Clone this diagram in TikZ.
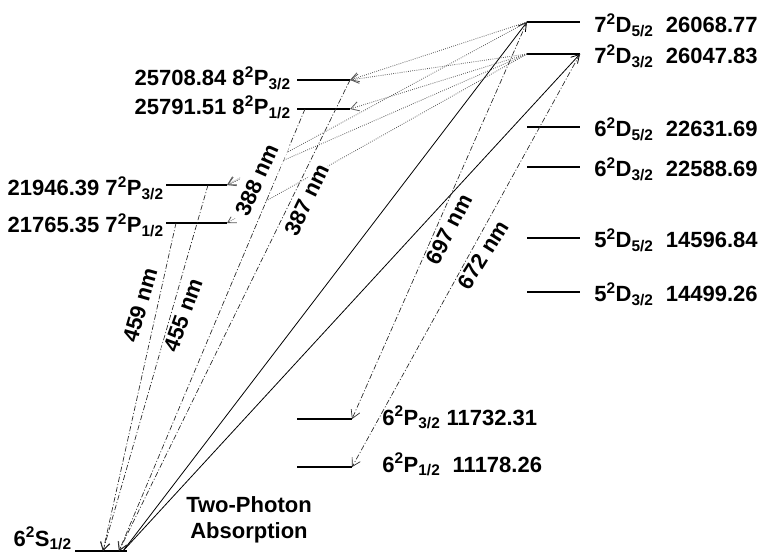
\documentclass[tikz,border=0pt]{standalone}
\usepackage{fontspec}
\setmainfont{Liberation Sans}
\usepackage{tikz}
\usetikzlibrary{arrows.meta}
\tikzset{
  nivel/.style={line width=2.2pt},
  absorcion/.style={-{Straight Barb[length=6pt,width=7pt]}, line width=0.6pt},
  emision/.style={-{Straight Barb[length=6pt,width=7pt]}, line width=0.5pt,
    dash pattern=on 4pt off 1.5pt on 0.8pt off 1.5pt, color=black!85},
  cascada/.style={-{Straight Barb[length=6pt,width=7pt]}, line width=0.6pt,
    densely dotted, color=black!65},
  etiq/.style={font=\fontsize{16.5}{19.5}\selectfont\bfseries, inner sep=0pt},
  onda/.style={etiq, fill=white, inner sep=1pt}
}
\newcommand{\term}[3]{#1\textsuperscript{2}#2\textsubscript{#3}}

\begin{document}
\begin{tikzpicture}[x=0.75pt, y=-0.75pt]
  \useasboundingbox (0,0) rectangle (759,555);
  % niveles D (derecha)
  \coordinate (d75a) at (527,22);  \coordinate (d75b) at (580,22);
  \coordinate (d73a) at (527,54);  \coordinate (d73b) at (580,54);
  \coordinate (d65a) at (527,127); \coordinate (d65b) at (580,127);
  \coordinate (d63a) at (527,167); \coordinate (d63b) at (580,167);
  \coordinate (d55a) at (527,238); \coordinate (d55b) at (580,238);
  \coordinate (d53a) at (527,292); \coordinate (d53b) at (580,292);
  % niveles P y S
  \coordinate (p83a) at (297,80);  \coordinate (p83b) at (350,80);
  \coordinate (p81a) at (297,109); \coordinate (p81b) at (350,109);
  \coordinate (p73a) at (166,185); \coordinate (p73b) at (227,185);
  \coordinate (p71a) at (166,223); \coordinate (p71b) at (227,223);
  \coordinate (p63a) at (297,419); \coordinate (p63b) at (352,419);
  \coordinate (p61a) at (297,467); \coordinate (p61b) at (352,467);
  \coordinate (s6a) at (75,551);   \coordinate (s6b) at (127,551);
  \foreach \n in {d75,d73,d65,d63,d55,d53,p83,p81,p73,p71,p63,p61,s6}
    \draw[nivel] (\n a) -- (\n b);

  \node[etiq, anchor=base west] (t75) at (594,33)  {\term{7}{D}{5/2}~~26068.77};
  \node[etiq, anchor=base west] (t73) at (594,64)  {\term{7}{D}{3/2}~~26047.83};
  \node[etiq, anchor=base west] (t65) at (594,137) {\term{6}{D}{5/2}~~22631.69};
  \node[etiq, anchor=base west] (t63) at (594,177) {\term{6}{D}{3/2}~~22588.69};
  \node[etiq, anchor=base west] (t55) at (594,248) {\term{5}{D}{5/2}~~14596.84};
  \node[etiq, anchor=base west] (t53) at (594,302) {\term{5}{D}{3/2}~~14499.26};
  \node[etiq, anchor=base east] (t83) at (291,86)  {25708.84 \term{8}{P}{3/2}};
  \node[etiq, anchor=base east] (t81) at (291,115) {25791.51 \term{8}{P}{1/2}};
  \node[etiq, anchor=base east] (t73p) at (164,196) {21946.39 \term{7}{P}{3/2}};
  \node[etiq, anchor=base east] (t71p) at (164,233) {21765.35 \term{7}{P}{1/2}};
  \node[etiq, anchor=base west] (t63p) at (382,425) {\term{6}{P}{3/2} 11732.31};
  \node[etiq, anchor=base west] (t61p) at (382,472) {\term{6}{P}{1/2}~~11178.26};
  \node[etiq, anchor=base east] (ts) at (72,546) {\term{6}{S}{1/2}};
  \node[etiq, align=center] (tpa) at (249,520) {Two-Photon\\Absorption};

  % puntos de salida y llegada
  \coordinate (sabs) at (123,551);
  \coordinate (s8p) at (119,551);
  \coordinate (s7p) at (103,551);
  \coordinate (o81) at (305,109);
  \coordinate (o73) at (208,185);
  \coordinate (o71) at (176,223);

  % absorcion de dos fotones
  \draw[absorcion] (sabs) -- (d75a);
  \draw[absorcion] (sabs) -- (d73b);
  % cascada 7D -> nP
  \draw[cascada] (d75a) -- (p83b);
  \draw[cascada] (d75a) -- (p73b);
  \draw[cascada] (d73a) -- (p83b);
  \draw[cascada] (d73a) -- (p81b);
  \draw[cascada] (d73a) -- (p73b);
  \draw[cascada] (d73a) -- (p71b);
  % emision
  \draw[emision] (d75a) -- (p63b);
  \draw[emision] (d73b) -- (p61b);
  \draw[emision] (p83b) -- (s8p);
  \draw[emision] (o81) -- (s8p);
  \draw[emision] (o73) -- (s7p);
  \draw[emision] (o71) -- (s7p);

  \node[onda, rotate=74] (l459) at (140,305) {459 nm};
  \node[onda, rotate=70] (l455) at (183,315) {455 nm};
  \node[onda, rotate=66, minimum width=66pt, minimum height=24pt] (l388) at (257,180) {388 nm};
  \node[onda, rotate=64] (l387) at (307,200) {387 nm};
  \node[onda, rotate=63] (l697) at (449,229) {697 nm};
  \node[onda, rotate=58] (l672) at (483,255) {672 nm};
\end{tikzpicture}
\end{document}
